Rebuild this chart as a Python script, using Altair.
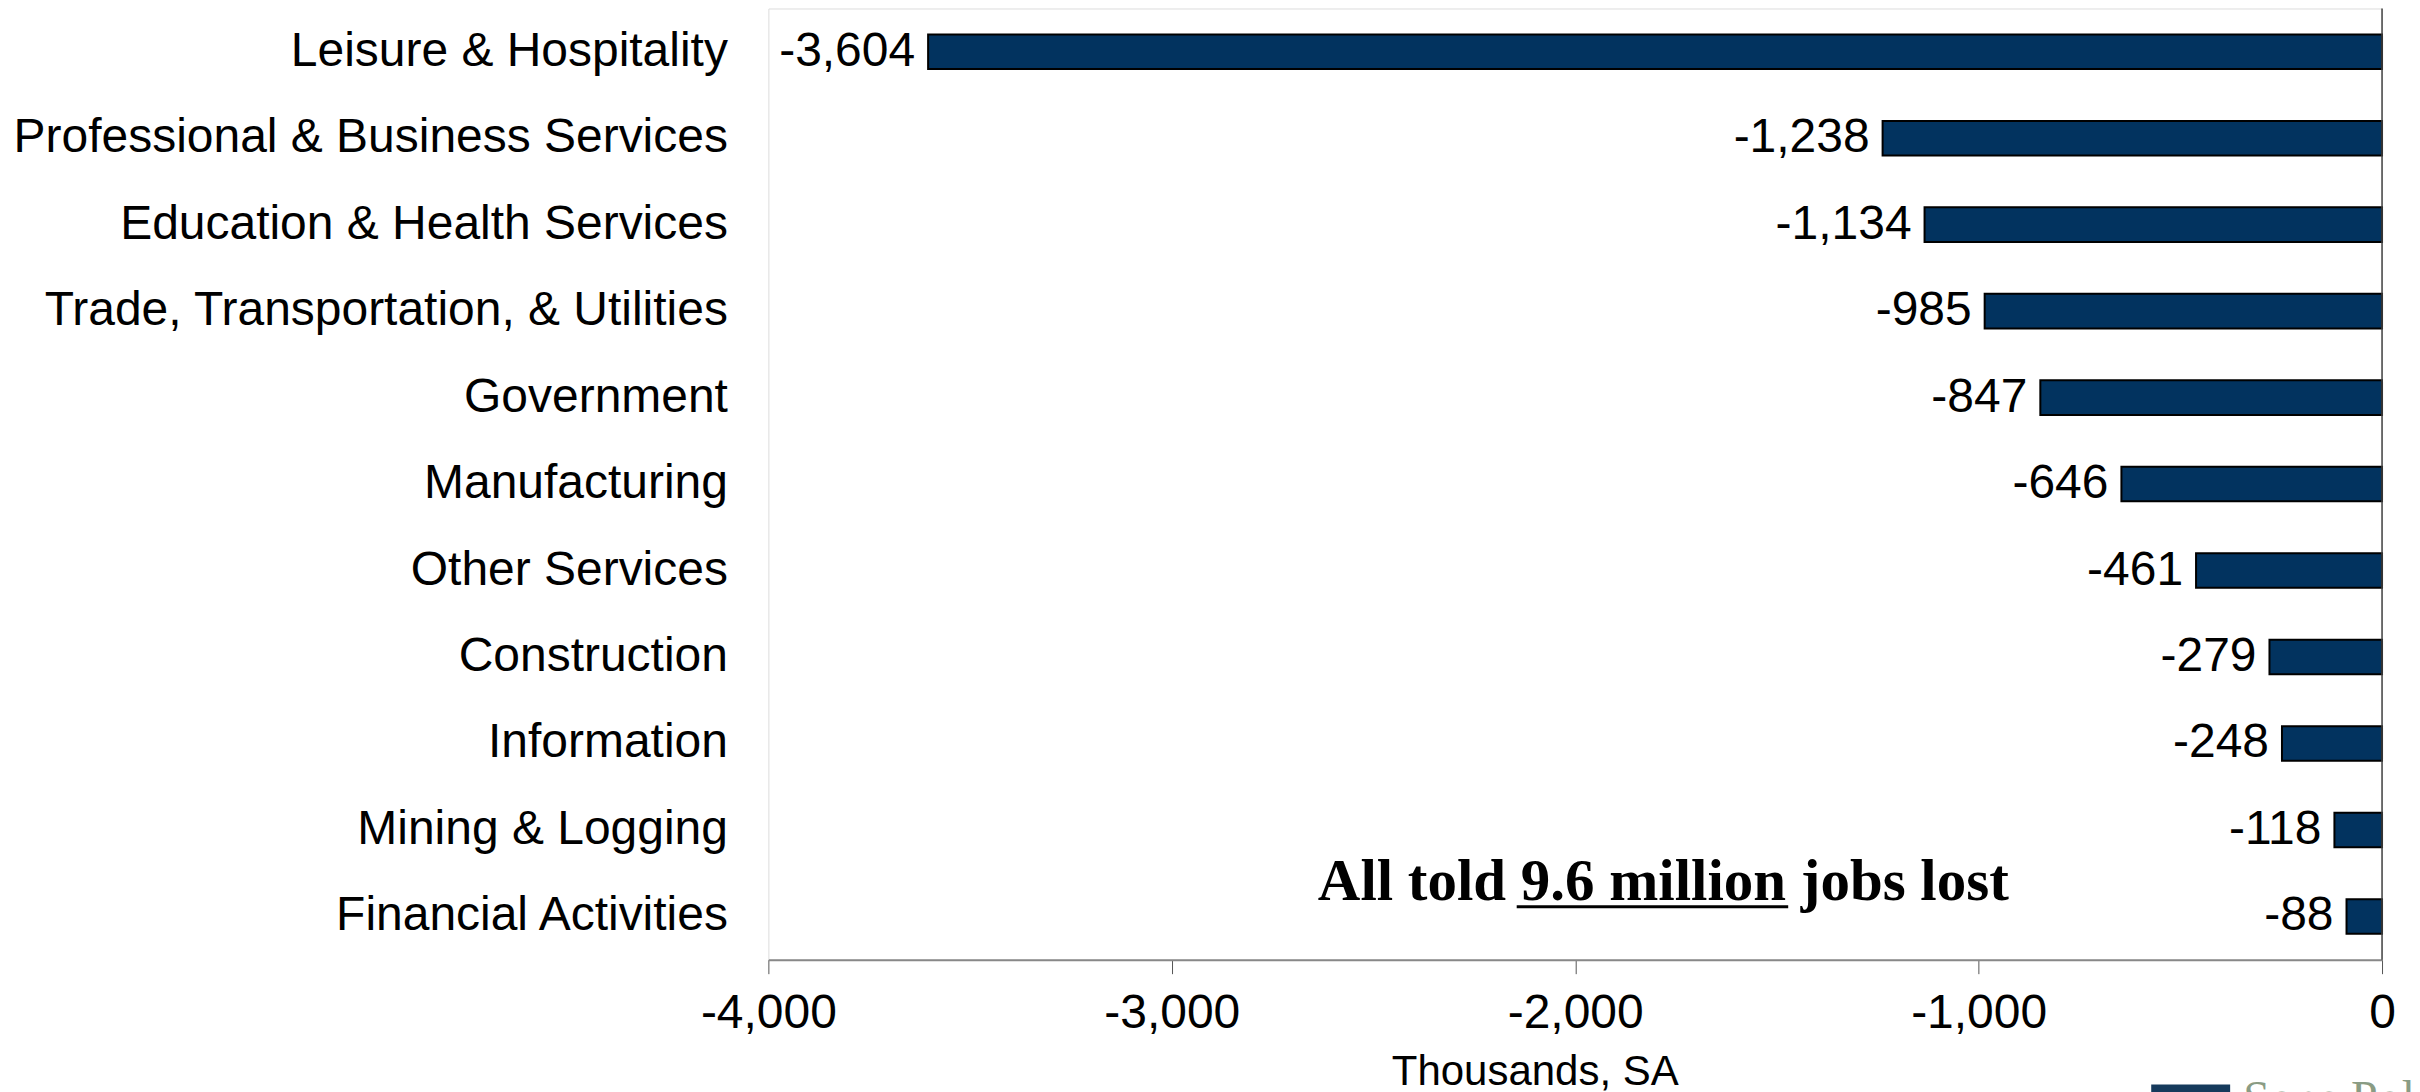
import altair as alt
import pandas as pd

categories = [
    "Leisure & Hospitality",
    "Professional & Business Services",
    "Education & Health Services",
    "Trade, Transportation, & Utilities",
    "Government",
    "Manufacturing",
    "Other Services",
    "Construction",
    "Information",
    "Mining & Logging",
    "Financial Activities",
]
values = [-3604, -1238, -1134, -985, -847, -646, -461, -279, -248, -118, -88]
tick_values = [-4000, -3000, -2000, -1000, 0]

annot_text = ["All told 9.6 million jobs lost"]
annot_x = [-2638]
underline_x = [-2145]
underline_x2 = [-1472]

df = pd.DataFrame({
    "category": categories,
    "value": values,
    "label": [f"{v:,}" for v in values],
})

FONT = "Liberation Sans"
BAR = "#02335F"

y_enc = alt.Y(
    "category:N",
    sort=categories,
    scale=alt.Scale(paddingInner=0.6, paddingOuter=0.3),
    axis=alt.Axis(
        title=None, domain=False, ticks=False, labelFontSize=48, labelFont=FONT,
        labelColor="black", labelPadding=41, labelLimit=2000,
    ),
)
x_enc = alt.X(
    "value:Q",
    scale=alt.Scale(domain=[-4000, 0], nice=False, zero=False),
    axis=alt.Axis(
        title="Thousands, SA", titleFontSize=42, titleFont=FONT, titleFontWeight="normal",
        titleColor="black", titlePadding=14, titleX=767,
        labelFontSize=48, labelFont=FONT, labelColor="black", labelPadding=16,
        labelFlush=False, tickSize=14, tickColor="#555555", tickWidth=1,
        domainColor="#888888", domainWidth=2, grid=False, values=tick_values,
        labelExpr="datum.value == 0 ? '0' : '-' + format(abs(datum.value), ',')",
    ),
)

base = alt.Chart(df)
bars = base.mark_bar(color=BAR, stroke="black", strokeWidth=2).encode(y=y_enc, x=x_enc)
labels = base.mark_text(
    align="right", baseline="middle", dx=-13, fontSize=48, font=FONT, color="black"
).encode(y=alt.Y("category:N", sort=categories), x=alt.X("value:Q"), text="label:N")

zero_rule = alt.Chart(pd.DataFrame({"value": [0]})).mark_rule(
    color="#444444", strokeWidth=1.5
).encode(x=alt.X("value:Q"))

annot_df = pd.DataFrame({"value": annot_x, "t": annot_text})
annot = alt.Chart(annot_df).mark_text(
    align="left", baseline="alphabetic", font="Liberation Serif", fontWeight="bold",
    fontSize=59, color="black",
).encode(x=alt.X("value:Q"), y=alt.value(892), text="t:N")

ul_df = pd.DataFrame({"value": underline_x, "value2": underline_x2})
underline = alt.Chart(ul_df).mark_rule(color="black", strokeWidth=3).encode(
    x=alt.X("value:Q"), x2="value2:Q", y=alt.value(899)
)

logo_rect = alt.Chart(pd.DataFrame({"value": [0]})).mark_rect(color="#163A5C").encode(
    x=alt.value(1384), x2=alt.value(1463), y=alt.value(1077), y2=alt.value(1130)
)
logo_text = alt.Chart(pd.DataFrame({"t": ["Sone Policy"]})).mark_text(
    align="left", baseline="top", font="Liberation Serif", fontSize=48, color="#8A9C84"
).encode(x=alt.value(1476), y=alt.value(1068), text="t:N")

chart = alt.layer(bars, zero_rule, labels, annot, underline, logo_rect, logo_text).properties(
    width=1615,
    height=952,
    autosize=alt.AutoSizeParams(type="none"),
    padding={"left": 761, "top": 0, "right": 30, "bottom": 190},
).configure_view(stroke=None).configure(background="white")

chart.save("out.html", embed_options={"renderer": "svg", "actions": False})
